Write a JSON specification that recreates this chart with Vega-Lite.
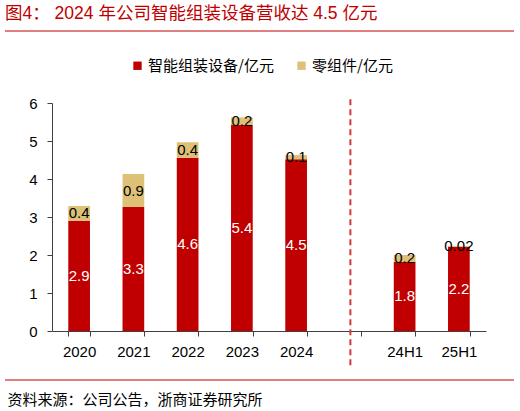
{
  "$schema": "https://vega.github.io/schema/vega-lite/v6.json",
  "width": 434,
  "height": 228,
  "autosize": {"type": "none"},
  "padding": {"left": 52, "top": 103, "right": 34, "bottom": 80},
  "background": "white",
  "config": {
    "view": {"stroke": null},
    "font": "Liberation Sans, Noto Sans CJK SC",
    "axisY": {
      "title": null,
      "labelFontSize": 15,
      "labelColor": "#000000",
      "labelPadding": 10,
      "labelOverlap": false,
      "tickSize": 5,
      "tickColor": "#404040",
      "domainColor": "#404040",
      "grid": false
    }
  },
  "title": {
    "text": "图4：  2024 年公司智能组装设备营收达 4.5 亿元",
    "anchor": "start",
    "frame": "group",
    "color": "#C00000",
    "fontSize": 17.5,
    "fontWeight": "normal",
    "font": "Liberation Sans, Noto Sans CJK SC",
    "dx": -47,
    "offset": 8
  },
  "datasets": {
    "bars": [
      {"period": "2020", "part": "智能组装设备/亿元", "o": 1, "value": 2.90, "label": "2.9"},
      {"period": "2020", "part": "零组件/亿元", "o": 2, "value": 0.39, "label": "0.4"},
      {"period": "2021", "part": "智能组装设备/亿元", "o": 1, "value": 3.26, "label": "3.3"},
      {"period": "2021", "part": "零组件/亿元", "o": 2, "value": 0.87, "label": "0.9"},
      {"period": "2022", "part": "智能组装设备/亿元", "o": 1, "value": 4.56, "label": "4.6"},
      {"period": "2022", "part": "零组件/亿元", "o": 2, "value": 0.41, "label": "0.4"},
      {"period": "2023", "part": "智能组装设备/亿元", "o": 1, "value": 5.42, "label": "5.4"},
      {"period": "2023", "part": "零组件/亿元", "o": 2, "value": 0.20, "label": "0.2"},
      {"period": "2024", "part": "智能组装设备/亿元", "o": 1, "value": 4.52, "label": "4.5"},
      {"period": "2024", "part": "零组件/亿元", "o": 2, "value": 0.11, "label": "0.1"},
      {"period": "24H1", "part": "智能组装设备/亿元", "o": 1, "value": 1.82, "label": "1.8"},
      {"period": "24H1", "part": "零组件/亿元", "o": 2, "value": 0.18, "label": "0.2"},
      {"period": "25H1", "part": "智能组装设备/亿元", "o": 1, "value": 2.22, "label": "2.2"},
      {"period": "25H1", "part": "零组件/亿元", "o": 2, "value": 0.02, "label": "0.02"}
    ],
    "divider": [
      {"period": " ", "top": 6.1, "bottom": -0.95}
    ]
  },
  "layer": [
    {
      "data": {"name": "bars"},
      "transform": [
        {"stack": "value", "groupby": ["period"], "sort": [{"field": "o"}], "as": ["v0", "v1"]},
        {"calculate": "(datum.v0 + datum.v1) / 2", "as": "mid"}
      ],
      "encoding": {
        "x": {
          "field": "period",
          "type": "nominal",
          "scale": {
            "domain": ["2020", "2021", "2022", "2023", "2024", " ", "24H1", "25H1"],
            "paddingInner": 0.6,
            "paddingOuter": 0.3
          },
          "axis": {
            "title": "资料来源：公司公告，浙商证券研究所",
            "titleFont": "Liberation Sans, Noto Sans CJK SC",
            "titleFontSize": 15,
            "titleFontWeight": "normal",
            "titleColor": "#000000",
            "titleAnchor": "start",
            "titleAlign": "left",
            "titleBaseline": "alphabetic",
            "titleX": -45,
            "titleY": 73,
            "labelAngle": 0,
            "labelFontSize": 15,
            "labelColor": "#000000",
            "labelPadding": 8,
            "tickBand": "extent",
            "tickSize": 5,
            "tickColor": "#404040",
            "domainColor": "#404040",
            "grid": false
          }
        }
      },
      "layer": [
        {
          "mark": {"type": "bar"},
          "encoding": {
            "y": {
              "field": "v0",
              "type": "quantitative",
              "scale": {"domain": [0, 6]},
              "axis": {"values": [0, 1, 2, 3, 4, 5, 6]}
            },
            "y2": {"field": "v1"},
            "color": {
              "field": "part",
              "type": "nominal",
              "scale": {
                "domain": ["智能组装设备/亿元", "零组件/亿元"],
                "range": ["#C00000", "#DCC177"]
              },
              "legend": {
                "orient": "none",
                "legendX": 78,
                "legendY": -45,
                "direction": "horizontal",
                "title": null,
                "symbolType": "square",
                "symbolSize": 70,
                "symbolStrokeWidth": 0,
                "labelFontSize": 15,
                "labelFont": "Noto Sans CJK SC",
                "labelColor": "#000000",
                "labelOffset": 3,
                "columnPadding": 20
              }
            }
          }
        },
        {
          "mark": {"type": "text", "fontSize": 15, "baseline": "middle"},
          "encoding": {
            "y": {"field": "mid", "type": "quantitative", "axis": {"values": [0, 1, 2, 3, 4, 5, 6]}},
            "text": {"field": "label"},
            "fill": {
              "condition": {"test": "datum.o == 1", "value": "#FFFFFF"},
              "value": "#000000"
            }
          }
        }
      ]
    },
    {
      "data": {"name": "divider"},
      "mark": {"type": "rule", "color": "#D23A3A", "strokeWidth": 2, "strokeDash": [6, 4]},
      "encoding": {
        "x": {"field": "period", "type": "nominal"},
        "y": {"field": "top", "type": "quantitative", "axis": {"values": [0, 1, 2, 3, 4, 5, 6]}},
        "y2": {"field": "bottom"}
      }
    },
    {
      "data": {"values": [{}]},
      "mark": {"type": "rule", "color": "#C00000", "strokeWidth": 1},
      "encoding": {
        "x": {"value": -47},
        "x2": {"value": 462},
        "y": {"value": -72}
      }
    },
    {
      "data": {"values": [{}]},
      "mark": {"type": "rule", "color": "#C00000", "strokeWidth": 1},
      "encoding": {
        "x": {"value": -47},
        "x2": {"value": 462},
        "y": {"value": 277}
      }
    }
  ]
}
